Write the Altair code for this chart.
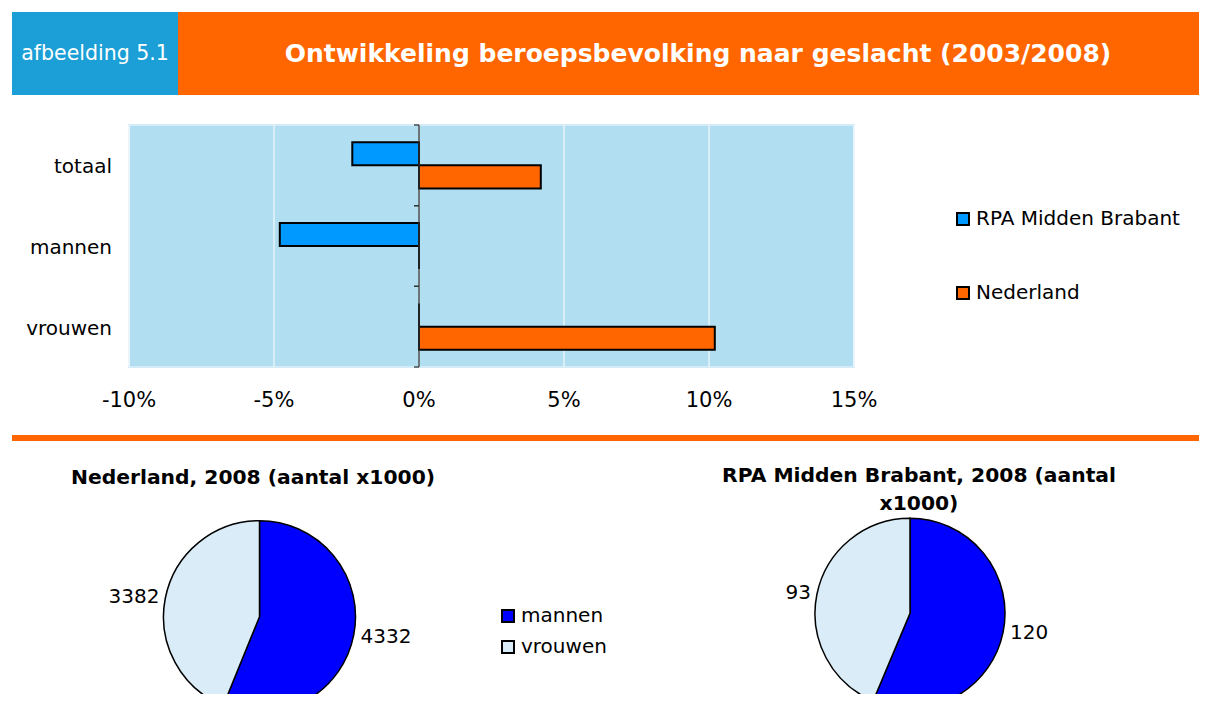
import altair as alt
import pandas as pd

# ---------------- data ----------------
categories = ["totaal", "mannen", "vrouwen"]
series = ["RPA Midden Brabant", "Nederland"]
rpa_change = [-0.023, -0.048, 0.0]
nl_change = [0.042, 0.0, 0.102]
tick_values = [-0.10, -0.05, 0.0, 0.05, 0.10, 0.15]
tick_labels = ["-10%", "-5%", "0%", "5%", "10%", "15%"]

pie_groups = ["mannen", "vrouwen"]
nl_2008 = [4332, 3382]
rpa_2008 = [120, 93]

header_label = "afbeelding 5.1"
header_title = "Ontwikkeling beroepsbevolking naar geslacht (2003/2008)"
nl_title = ["Nederland, 2008 (aantal x1000)"]
rpa_title = ["RPA Midden Brabant, 2008 (aantal", "x1000)"]

# ---------------- style ----------------
FONT = "DejaVu Sans"
W, H = 1191, 686
ORANGE = "#ff6600"
HEAD_BLUE = "#1b9fd6"
BAR_COLORS = ["#0099ff", ORANGE]
PIE_COLORS = ["#0000ff", "#d9ecf7"]
FS = 20

one = pd.DataFrame({"a": [0]})

bar_df = pd.DataFrame({
    "cat": categories * 2,
    "series": [s for s in series for _ in categories],
    "v": rpa_change + nl_change,
})
tick_df = pd.DataFrame({"t": tick_values, "lab": tick_labels})
cat_df = pd.DataFrame({"cat": categories})

PLOT_TOP, PLOT_BOT = 117, 359
xs = alt.Scale(domain=[tick_values[0], tick_values[-1]], range=[121, 846], nice=False)
ys = alt.Scale(domain=categories, range=[PLOT_TOP, PLOT_BOT], paddingInner=0, paddingOuter=0)

layers = []

# header
layers.append(alt.Chart(one).mark_rect(fill=HEAD_BLUE).encode(
    x=alt.value(4), x2=alt.value(170), y=alt.value(4), y2=alt.value(87)))
layers.append(alt.Chart(one).mark_rect(fill=ORANGE).encode(
    x=alt.value(170), x2=alt.value(W), y=alt.value(4), y2=alt.value(87)))
layers.append(alt.Chart(one).mark_text(font=FONT, fontSize=20.5, color="white",
                                       align="center", baseline="middle").encode(
    x=alt.value(87), y=alt.value(46), text=alt.value(header_label)))
layers.append(alt.Chart(one).mark_text(font=FONT, fontSize=25, fontWeight="bold", color="white",
                                       align="center", baseline="middle").encode(
    x=alt.value(690), y=alt.value(46), text=alt.value(header_title)))

# bar chart background
layers.append(alt.Chart(one).mark_rect(fill="#b1def0", stroke="#d4ecf7", strokeWidth=2).encode(
    x=alt.X(datum=tick_values[0], scale=xs, axis=None),
    x2=alt.X2(datum=tick_values[-1]),
    y=alt.value(PLOT_TOP), y2=alt.value(PLOT_BOT)))
# grid
layers.append(alt.Chart(tick_df).mark_rule(color="white", strokeWidth=1).encode(
    x=alt.X("t:Q", scale=xs, axis=None), y=alt.value(PLOT_TOP), y2=alt.value(PLOT_BOT)))
# bars
layers.append(alt.Chart(bar_df).mark_bar(stroke="black", strokeWidth=2).encode(
    x=alt.X("v:Q", scale=xs, axis=None),
    y=alt.Y("cat:N", scale=ys, axis=None),
    yOffset=alt.YOffset("series:N", scale=alt.Scale(domain=series, paddingInner=0, paddingOuter=0.75)),
    fill=alt.Fill("series:N", scale=alt.Scale(domain=series, range=BAR_COLORS),
                  legend=alt.Legend(orient="none", legendX=945, legendY=201, title=None,
                                    symbolType="square", symbolSize=144,
                                    symbolStrokeColor="black", symbolStrokeWidth=2,
                                    labelFont=FONT, labelFontSize=FS, labelColor="black",
                                    labelLimit=400, labelOffset=3, rowPadding=54))))
# zero axis line and ticks
layers.append(alt.Chart(one).mark_rule(color="#333333", strokeWidth=1.3).encode(
    x=alt.X(datum=0, scale=xs, axis=None), y=alt.value(PLOT_TOP), y2=alt.value(PLOT_BOT)))
for bp in (0, 1):
    layers.append(alt.Chart(cat_df).mark_rule(color="#333333", strokeWidth=1.3, x2Offset=-5).encode(
        x=alt.X(datum=0, scale=xs, axis=None), x2=alt.X2(datum=0),
        y=alt.Y("cat:N", scale=ys, axis=None, bandPosition=bp)))

# category labels & tick labels
layers.append(alt.Chart(cat_df).mark_text(font=FONT, fontSize=FS, color="black", dy=2,
                                          align="right", baseline="middle").encode(
    x=alt.value(104), y=alt.Y("cat:N", scale=ys, axis=None), text="cat:N"))
layers.append(alt.Chart(tick_df).mark_text(font=FONT, fontSize=21, color="black",
                                           align="center", baseline="middle").encode(
    x=alt.X("t:Q", scale=xs, axis=None), y=alt.value(393), text="lab:N"))

# separator
layers.append(alt.Chart(one).mark_rule(color=ORANGE, strokeWidth=6).encode(
    x=alt.value(4), x2=alt.value(W), y=alt.value(430)))

# pies
ths = alt.Scale(domain=[0, 1])
cs = alt.Scale(domain=pie_groups, range=PIE_COLORS)
pie_legend = alt.Legend(orient="none", legendX=490, legendY=598, title=None,
                        symbolType="square", symbolSize=144,
                        symbolStrokeColor="black", symbolStrokeWidth=2,
                        labelFont=FONT, labelFontSize=FS, labelColor="black",
                        labelLimit=400, labelOffset=3, rowPadding=11)


def pie(values, cx, cy, r, title_lines, title_x, title_cy):
    df = pd.DataFrame({"g": pie_groups, "v": values, "o": list(range(len(values)))})
    base = (alt.Chart(df)
            .transform_joinaggregate(total="sum(v)")
            .transform_calculate(frac="datum.v / datum.total")
            .transform_window(cum="sum(frac)", sort=[alt.SortField("o")])
            .transform_calculate(mid="datum.cum - datum.frac / 2"))
    out = [base.mark_arc(outerRadius=r, stroke="black", strokeWidth=1.5).encode(
        theta=alt.Theta("frac:Q", stack=True, scale=ths),
        color=alt.Color("g:N", scale=cs, legend=pie_legend),
        order=alt.Order("o:Q"),
        x=alt.value(cx), y=alt.value(cy))]
    for grp, al, rr in (("mannen", "left", r + 7), ("vrouwen", "right", r + 6)):
        out.append(base.transform_filter(alt.datum.g == grp)
                   .mark_text(radius=rr, align=al, baseline="middle", font=FONT,
                              fontSize=FS, color="black")
                   .encode(theta=alt.Theta("mid:Q", stack=False, scale=ths),
                           text="v:Q", x=alt.value(cx), y=alt.value(cy)))
    for i, line in enumerate(title_lines):
        out.append(alt.Chart(one).mark_text(font=FONT, fontSize=20.3, fontWeight="bold",
                                            color="black", align="center", baseline="middle").encode(
            x=alt.value(title_x), y=alt.value(title_cy + 28 * i), text=alt.value(line)))
    return out


layers += pie(nl_2008, 251.5, 608.7, 96, nl_title, 245, 470)
layers += pie(rpa_2008, 902, 605.3, 95, rpa_title, 911, 468)

chart = (alt.layer(*layers)
         .properties(width=W, height=H, padding=0, background="white",
                     autosize=alt.AutoSizeParams(type="none"))
         .configure_view(strokeWidth=0))

chart.save("out.html", embed_options={"renderer": "svg", "actions": False})
